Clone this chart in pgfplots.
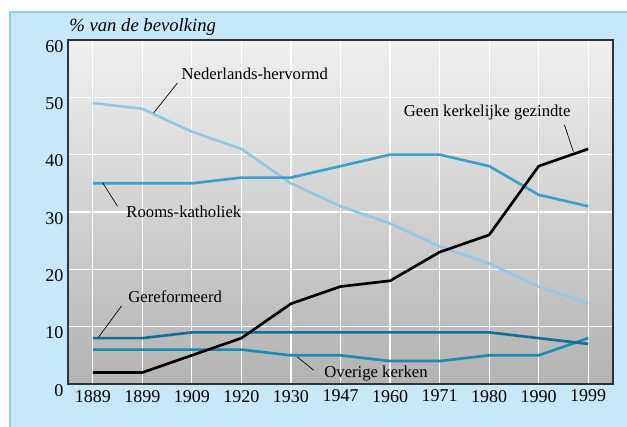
\documentclass[border=0pt]{standalone}
\usepackage{fontspec}
\setmainfont{Liberation Serif}
\usepackage{pgfplots}
\usepackage{pgfplotstable}
\pgfplotsset{compat=1.18}

\definecolor{panel}{HTML}{C6E8F8}
\definecolor{paneledge}{HTML}{8ECFEE}
\definecolor{nhcol}{HTML}{96C8E1}
\definecolor{rkcol}{HTML}{3CA0C8}
\definecolor{grcol}{HTML}{146E96}
\definecolor{okcol}{HTML}{198CAF}

% year index 0..10 = 1889 ... 1999
\pgfplotstableread{
i  nh  rk  geen  gr  ok
0  49  35  2     8   6
1  48  35  2     8   6
2  44  35  5     9   6
3  41  36  8     9   6
4  35  36  14    9   5
5  31  38  17    9   5
6  28  40  18    9   4
7  24  40  23    9   4
8  21  38  26    9   5
9  17  33  38    8   5
10 14  31  41    7   8
}\kerken

\begin{document}
\begin{tikzpicture}[x=1pt,y=1pt]
\useasboundingbox (0,0) rectangle (470.25,320.25);
\fill[panel] (7.5,0) rectangle (470.25,311.25);
\draw[paneledge, line width=0.8pt] (7.5,0) -- (7.5,311.25) -- (470.25,311.25);
\begin{axis}[
  at={(51pt,32.25pt)}, anchor=south west,
  scale only axis, width=408.75pt, height=258pt,
  xmin=-0.5, xmax=10.5, ymin=0, ymax=60,
  xtick={0,...,10},
  xticklabels={1889,1899,1909,1920,1930,1947,1960,1971,1980,1990,1999},
  ytick={0,10,...,60},
  /pgf/number format/assume math mode=true,
  major tick length=0pt,
  grid=major,
  grid style={white, line width=0.9pt},
  axis line style={draw=black!80, line width=1.2pt},
  axis background/.style={shade, top color=black!6, bottom color=black!30},
  tick label style={font=\fontsize{13.5}{15}\selectfont},
  xticklabel style={yshift=-1pt},
  yticklabel style={yshift=-4.8pt},
  clip=false,
  every axis plot/.append style={line width=2pt, line join=round},
]
\addplot[nhcol] table[x=i, y=nh] {\kerken};
\addplot[rkcol] table[x=i, y=rk] {\kerken};
\addplot[okcol] table[x=i, y=ok] {\kerken};
\addplot[grcol] table[x=i, y=gr] {\kerken};
\addplot[black] table[x=i, y=geen] {\kerken};

\begin{scope}[font=\fontsize{12.5}{14}\selectfont]
\node[anchor=south west, inner sep=0pt, font=\itshape\fontsize{14}{16}\selectfont]
  at (rel axis cs:0.002,1) [yshift=3.5pt] {\% van de bevolking};
\node at (axis cs:3.27,54.1) {Nederlands-hervormd};
\draw[black, line width=0.5pt] (axis cs:1.71,52.5) -- (axis cs:1.23,47.3);
\node at (axis cs:7.96,47.3) {Geen kerkelijke gezindte};
\draw[black, line width=0.5pt] (axis cs:9.52,45.2) -- (axis cs:9.70,40.5);
\node[anchor=west] at (axis cs:0.585,30.0) {Rooms-katholiek};
\draw[black, line width=0.5pt] (axis cs:0.20,35.1) -- (axis cs:0.50,31.0);
\node[anchor=west] at (axis cs:0.625,15.2) {Gereformeerd};
\draw[black, line width=0.5pt] (axis cs:0.58,13.6) -- (axis cs:0.12,8.2);
\node[anchor=west] at (axis cs:4.58,1.9) {Overige kerken};
\draw[black, line width=0.5pt] (axis cs:4.13,4.7) -- (axis cs:4.46,2.4);
\end{scope}
\end{axis}
\end{tikzpicture}
\end{document}
